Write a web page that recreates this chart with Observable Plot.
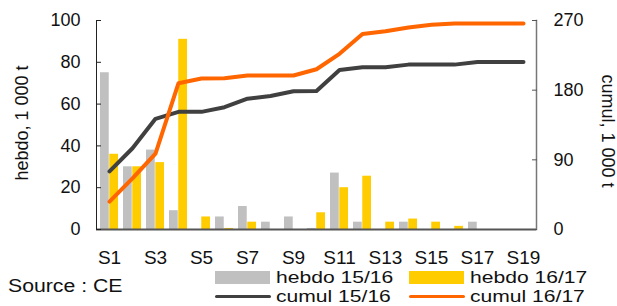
<!DOCTYPE html>
<html><head><meta charset="utf-8">
<script src="https://cdn.jsdelivr.net/npm/d3@7"></script>
<script src="https://cdn.jsdelivr.net/npm/@observablehq/plot@0.6"></script>
<style>
body{margin:0;background:#fff;font-family:"Liberation Sans",Arial,sans-serif;}
#wrap{position:relative;width:617px;height:306px;overflow:hidden;background:#fff;}
#chart svg{display:block;}
.leg{position:absolute;font-size:17px;color:#111;line-height:19px;height:19px;white-space:nowrap;transform:scaleX(1.24);transform-origin:0 50%;}
.sw{position:absolute;}
</style></head><body>
<div id="wrap"><div id="chart"></div><div id="legend"></div></div>
<script>
const weeks = ["S1","S2","S3","S4","S5","S6","S7","S8","S9","S10","S11","S12","S13","S14","S15","S16","S17","S18","S19"];
const tickWeeks = weeks.filter((d, i) => i % 2 === 0);
const hebdo1516 = [75, 30, 38, 9, 0, 6, 11, 3.5, 6, 0.5, 27, 3.5, 0, 3.5, 0, 0, 3.5, 0, 0];
const hebdo1617 = [36, 30, 32, 91, 6, 0.5, 3.5, 0, 0, 8, 20, 25.5, 3.5, 5, 3.5, 1.5, 0, 0, 0];
const cumul1516 = [75, 105, 143, 152, 152, 158, 169, 172.5, 178.5, 179, 206, 209.5, 209.5, 213, 213, 213, 216.5, 216.5, 216.5];
const cumul1617 = [36, 66, 98, 189, 195, 195.5, 199, 199, 199, 207, 227, 252.5, 256, 261, 264.5, 266, 266, 266, 266];
const hebdoTicks = [0, 20, 40, 60, 80, 100];
const cumulTicks = [0, 90, 180, 270];
const seriesNames = ["hebdo 15/16", "hebdo 16/17", "cumul 15/16", "cumul 16/17"];
const sourceText = "Source : CE";
const leftTitle = "hebdo, 1 000 t";
const rightTitle = "cumul, 1 000 t";

const colors = {grey: "#c0c0c0", yellow: "#ffcc00", dark: "#404040", orange: "#ff6600"};
const k = 100 / 270;
const W = 617, H = 268, mL = 96, mR = 81, mT = 20, mB = 39;
const pIn = 0.2, pOut = 0.1;
const step = (W - mL - mR) / (weeks.length - pIn + 2 * pOut);
const half = step * (1 - pIn) / 2;

const chart = Plot.plot({
  width: W, height: H, marginLeft: mL, marginRight: mR, marginTop: mT, marginBottom: mB,
  style: {fontFamily: '"Liberation Sans", Arial, sans-serif', background: "#fff", color: "#111", overflow: "visible"},
  x: {type: "band", domain: weeks, paddingInner: pIn, paddingOuter: pOut},
  y: {domain: [0, 100]},
  marks: [
    Plot.barY(weeks, {x: d => d, y: (d, i) => hebdo1516[i], fill: colors.grey, insetLeft: 0, insetRight: half}),
    Plot.barY(weeks, {x: d => d, y: (d, i) => hebdo1617[i], fill: colors.yellow, insetLeft: half, insetRight: 0}),
    Plot.ruleY([0], {stroke: "#555", strokeWidth: 2}),
    Plot.frame({anchor: "left", stroke: "#222", strokeWidth: 1}),
    Plot.frame({anchor: "right", stroke: "#777", strokeWidth: 1.5}),
    Plot.line(weeks, {x: d => d, y: (d, i) => cumul1516[i] * k, stroke: colors.dark, strokeWidth: 4, strokeLinecap: "round", strokeLinejoin: "round"}),
    Plot.line(weeks, {x: d => d, y: (d, i) => cumul1617[i] * k, stroke: colors.orange, strokeWidth: 4, strokeLinecap: "round", strokeLinejoin: "round"}),
    Plot.axisX({ticks: tickWeeks, tickSize: 0, tickPadding: 21, fontSize: 19, label: null, fill: "#111"}),
    Plot.axisY({anchor: "left", ticks: hebdoTicks, tickSize: -5, tickPadding: 21, fontSize: 18, label: null, stroke: "#222", fill: "#111"}),
    Plot.axisY({anchor: "right", ticks: cumulTicks.map(v => v * k), tickFormat: d => String(Math.round(d / k)), tickSize: -5, tickPadding: 22, fontSize: 18, label: null, stroke: "#555", fill: "#111"}),
    Plot.text([leftTitle], {frameAnchor: "left", rotate: -90, dx: -74, dy: -2, textAnchor: "middle", lineAnchor: "middle", fontSize: 18, fill: "#111"}),
    Plot.text([rightTitle], {frameAnchor: "right", rotate: 90, dx: 71, dy: 6, textAnchor: "middle", lineAnchor: "middle", fontSize: 18, fill: "#111"})
  ]
});
document.getElementById("chart").appendChild(chart);

// legend (HTML, below the SVG)
const legend = document.getElementById("legend");
const src = document.createElement("div");
src.className = "leg"; src.textContent = sourceText;
src.style.cssText = "left:8px;top:276px;font-size:18px;line-height:21px;height:21px;transform:scaleX(1.18);";
legend.appendChild(src);
const legItems = [
  {name: seriesNames[0], kind: "rect", color: colors.grey, col: 0, row: 0},
  {name: seriesNames[1], kind: "rect", color: colors.yellow, col: 1, row: 0},
  {name: seriesNames[2], kind: "line", color: colors.dark, col: 0, row: 1},
  {name: seriesNames[3], kind: "line", color: colors.orange, col: 1, row: 1}
];
const colX = [215, 409], rowTop = [268, 287];
for (const it of legItems) {
  const sw = document.createElement("div");
  sw.className = "sw";
  if (it.kind === "rect") {
    sw.style.cssText = `left:${colX[it.col]}px;top:271px;width:55px;height:13px;background:${it.color};`;
  } else {
    sw.style.cssText = `left:${colX[it.col]}px;top:295px;width:56px;height:3px;border-radius:1.5px;background:${it.color};`;
  }
  legend.appendChild(sw);
  const t = document.createElement("div");
  t.className = "leg"; t.textContent = it.name;
  t.style.left = (colX[it.col] + 61) + "px";
  t.style.top = rowTop[it.row] + "px";
  legend.appendChild(t);
}
</script>
</body></html>
